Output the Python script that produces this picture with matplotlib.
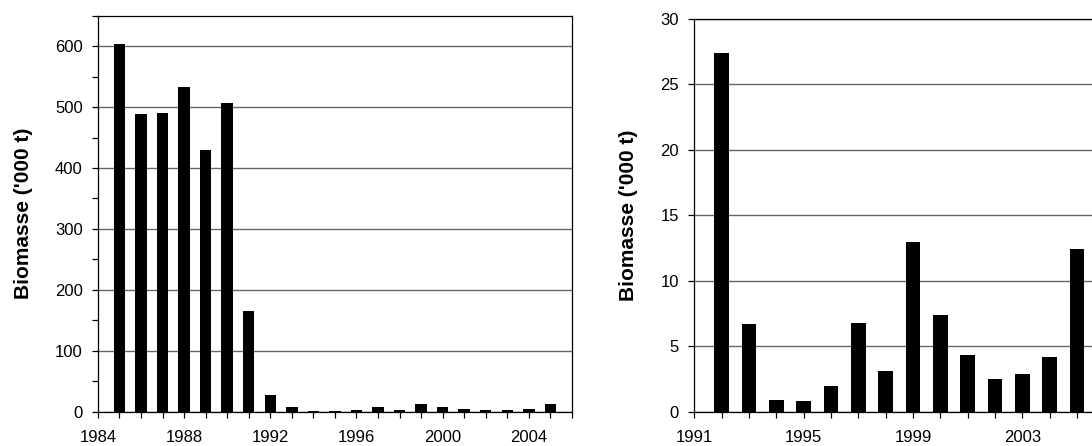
import matplotlib.pyplot as plt
from matplotlib.ticker import MultipleLocator

plt.rcParams['font.family'] = ['Liberation Sans', 'DejaVu Sans']

# left panel: 1985-2005
years_left = list(range(1985, 2006))
biomass_left = [603, 489, 491, 533, 430, 507, 165, 28, 7.5, 1.5, 1.2, 2.5, 7, 3.5,
                13, 7.5, 4.5, 2.5, 3, 4.5, 12.5]

# right panel: 1992-2005, zoomed
years_right = list(range(1992, 2006))
biomass_right = [27.4, 6.7, 0.9, 0.85, 2.0, 6.75, 3.1, 13.0, 7.4, 4.3, 2.5, 2.85, 4.15, 12.4]

ylabel = "Biomasse ('000 t)"

fig = plt.figure(figsize=(10.92, 4.46), dpi=100)
ax1 = fig.add_axes([0.0897, 0.0769, 0.434, 0.888])
ax2 = fig.add_axes([0.6358, 0.0769, 0.3755, 0.8805])


def style(ax, x0, x1, ymax, ystep, yminor):
    ax.set_axisbelow(True)
    ax.grid(axis='y', color='#666666', linewidth=1.0)
    ax.set_xlim(x0, x1)
    ax.set_ylim(0, ymax)
    ax.yaxis.set_major_locator(MultipleLocator(ystep))
    if yminor:
        ax.yaxis.set_minor_locator(MultipleLocator(yminor))
    ticks = list(range(x0, int(x1) + 1))
    ax.set_xticks(ticks)
    ax.set_xticklabels([str(t) if (t - x0) % 4 == 0 else '' for t in ticks])
    ax.tick_params(axis='both', which='both', direction='out', length=4, width=0.9,
                   labelsize=12, colors='black')
    ax.tick_params(axis='y', pad=7)
    ax.tick_params(axis='x', pad=9)
    for s in ax.spines.values():
        s.set_linewidth(0.9)
    ax.set_ylabel(ylabel, fontsize=15, fontweight='bold')
    ax.yaxis.set_label_coords(-0.137, 0.5)


ax1.bar(years_left, biomass_left, width=0.53, color='black')
style(ax1, 1984, 2006, 650, 100, 50)

ax2.bar(years_right, biomass_right, width=0.53, color='black')
style(ax2, 1991, 2006, 30, 5, None)

fig.savefig('out.png', dpi=100)
